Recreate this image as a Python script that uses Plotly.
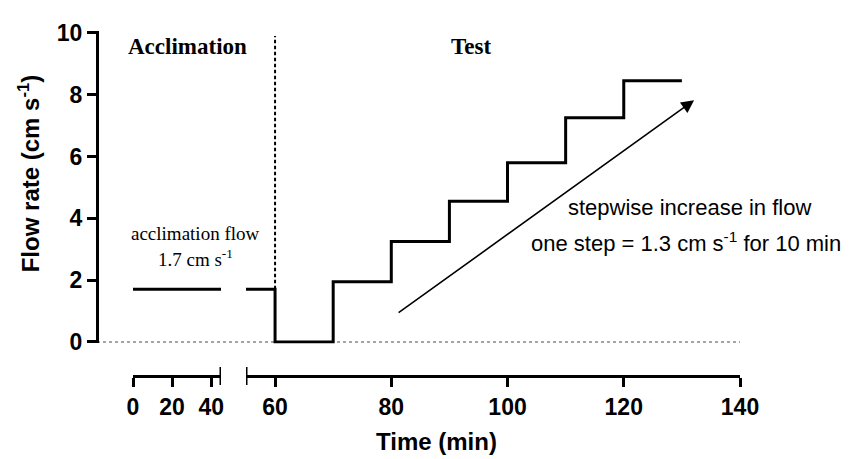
import plotly.graph_objects as go

# ---- data ----
accl_time = [0, 45]
accl_flow = [1.7, 1.7]
test_time = [55, 60, 70, 80, 90, 100, 110, 120, 130]
test_flow = [1.7, 0, 1.95, 3.25, 4.55, 5.8, 7.25, 8.45, 8.45]
phase_boundary = 60
boundary_top = 9.9
arrow_start = (81, 0.91)
arrow_end = (132.1, 7.82)
left_ticks = [0, 20, 40]
right_ticks = [60, 80, 100, 120, 140]
y_ticks = [0, 2, 4, 6, 8, 10]
left_range = [0, 45]
right_range = [55, 140]

SANS = "Liberation Sans, Arial, sans-serif"
SERIF = "Liberation Serif, Times New Roman, serif"
LW = 3

# page body has an 8px margin; plot area spans screen px 97..740 (x) and 22..376 (y)
PL, PR, PT, PB = 97, 740, 22, 376
PW, PH = PR - PL, PB - PT


def px(xs):
    return (xs - PL) / PW


def py(ys):
    return (PB - ys) / PH


fig = go.Figure()
fig.add_trace(go.Scatter(x=accl_time, y=accl_flow, mode="lines",
                         line=dict(color="black", width=LW),
                         xaxis="x", yaxis="y", showlegend=False))
fig.add_trace(go.Scatter(x=test_time, y=test_flow, mode="lines",
                         line=dict(color="black", width=LW, shape="hv"),
                         xaxis="x2", yaxis="y", showlegend=False))
fig.add_trace(go.Scatter(x=[phase_boundary, phase_boundary], y=[accl_flow[-1], boundary_top],
                         mode="lines", line=dict(color="black", width=2, dash="3.5px,2.5px"),
                         xaxis="x2", yaxis="y", showlegend=False))

xcommon = dict(showline=True, linecolor="black", linewidth=LW, ticks="outside",
               ticklen=9, tickwidth=2.5, tickcolor="black", showgrid=False,
               zeroline=False, anchor="free", position=0,
               tickfont=dict(family=SANS, size=23, color="black", weight="bold"))

fig.update_layout(
    width=844, height=451,
    margin=dict(l=PL - 8, r=844 - (PR - 8), t=PT - 8, b=451 - (PB - 8)),
    plot_bgcolor="white", paper_bgcolor="white",
    xaxis=dict(domain=[px(133), px(221)], range=left_range, tickvals=left_ticks, **xcommon),
    xaxis2=dict(domain=[px(246), 1], range=right_range, tickvals=right_ticks, **xcommon),
    yaxis=dict(domain=[0.0944, 0.999], range=[-0.05, 10.05], tickvals=y_ticks,
               showline=True, linecolor="black", linewidth=LW, ticks="outside",
               ticklen=9, tickwidth=3, tickcolor="black", showgrid=False, zeroline=False,
               anchor="free", position=0,
               tickfont=dict(family=SANS, size=23, color="black", weight="bold")),
)

# baseline dotted line at zero flow
fig.add_shape(type="line", xref="paper", yref="y", x0=0, x1=1, y0=0, y1=0,
              line=dict(color="#888888", width=1.5, dash="dot"), layer="below")

# axis break caps
for xr, xv in (("x", left_range[1]), ("x2", right_range[0])):
    fig.add_shape(type="line", xref=xr, yref="paper", x0=xv, x1=xv, y0=-0.026, y1=0.026,
                  line=dict(color="black", width=3))

# arrow
fig.add_annotation(x=arrow_end[0], y=arrow_end[1], ax=arrow_start[0], ay=arrow_start[1],
                   xref="x2", yref="y", axref="x2", ayref="y", text="", showarrow=True,
                   arrowhead=2, arrowsize=1.6, arrowwidth=1.6, arrowcolor="black", standoff=0)


def label(xs, ys, text, family, size, angle=0):
    fig.add_annotation(x=px(xs), y=py(ys), xref="paper", yref="paper", text=text,
                       showarrow=False, xanchor="center", yanchor="middle", textangle=angle,
                       font=dict(family=family, size=size, color="black"))


label(187, 38, "<b>Acclimation</b>", SERIF, 23)
label(471, 38, "<b>Test</b>", SERIF, 23)
label(195, 230, "acclimation flow", SERIF, 19)
label(195, 255, "1.7 cm s<sup>-1</sup>", SERIF, 19)
label(689, 203, "stepwise increase in flow", SANS, 22)
label(686, 238, "one step = 1.3 cm s<sup>-1</sup> for 10 min", SANS, 22)
label(437, 443, "<b>Time (min)</b>", SANS, 24)
label(29, 168, "<b>Flow rate (cm s<sup>-1</sup>)</b>", SANS, 24, angle=-90)

fig.write_html("out.html")
